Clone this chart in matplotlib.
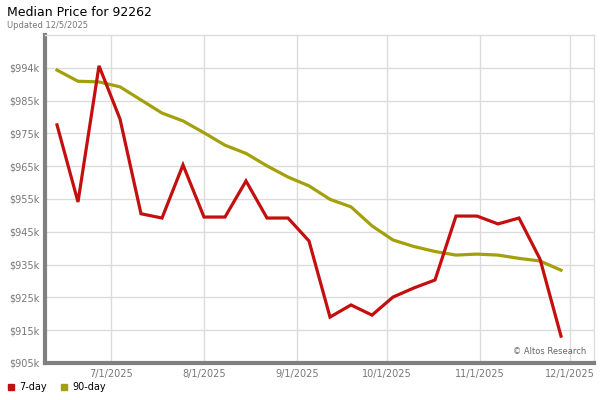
import matplotlib.pyplot as plt
import matplotlib.dates as mdates
import pandas as pd
from matplotlib.lines import Line2D

# Weekly median prices ($k)
dates = pd.date_range("2025-06-13", periods=25, freq="7D")
price_7day = [977.6, 954.1, 995.6, 979.4, 950.5, 949.2, 965.4, 949.5, 949.5, 960.5,
              949.2, 949.2, 942.2, 919.0, 922.7, 919.6, 925.1, 927.9, 930.3, 949.8,
              949.8, 947.4, 949.2, 936.7, 913.2]
price_90day = [994.3, 990.9, 990.7, 989.2, 985.2, 981.2, 978.8, 975.2, 971.4, 968.9,
               965.1, 961.7, 959.0, 954.9, 952.6, 946.8, 942.5, 940.5, 939.0, 937.9,
               938.2, 937.9, 936.9, 936.1, 933.3]

y_ticks = [905, 915, 925, 935, 945, 955, 965, 975, 985, 995]
y_labels = ["$905k", "$915k", "$925k", "$935k", "$945k", "$955k",
            "$965k", "$975k", "$985k", "$994k"]
x_ticks = pd.to_datetime(["2025-07-01", "2025-08-01", "2025-09-01",
                          "2025-10-01", "2025-11-01", "2025-12-01"])

red = "#c40f0f"
olive = "#a3a00b"
grid_c = "#dcdcdc"
text_c = "#777777"

fig = plt.figure(figsize=(6, 4), dpi=100)
ax = fig.add_axes([0.075, 0.0925, 0.915, 0.82])

ax.plot(dates, price_90day, color=olive, lw=2.3, solid_joinstyle="miter", zorder=3)
ax.plot(dates, price_7day, color=red, lw=2.3, solid_joinstyle="miter", zorder=4)

ax.set_ylim(905, 1005)
ax.set_xlim(pd.Timestamp("2025-06-09"), pd.Timestamp("2025-12-09"))
ax.set_yticks(y_ticks)
ax.set_yticklabels(y_labels)
ax.set_xticks(x_ticks)
ax.xaxis.set_major_formatter(mdates.DateFormatter("%-m/%-d/%Y"))
ax.tick_params(length=0, labelsize=7, labelcolor=text_c, pad=4)
ax.grid(True, color=grid_c, lw=1)
ax.set_axisbelow(True)

for side in ("top", "right"):
    ax.spines[side].set_color(grid_c)
    ax.spines[side].set_linewidth(1)
for side in ("left", "bottom"):
    ax.spines[side].set_color("#808080")
    ax.spines[side].set_linewidth(3)

ax.text(0.985, 0.02, "\u00a9 Altos Research", transform=ax.transAxes,
        ha="right", va="bottom", fontsize=6, color="#666666")

fig.text(0.012, 0.97, "Median Price for 92262", fontsize=9, va="center")
fig.text(0.012, 0.937, "Updated 12/5/2025", fontsize=6, color=text_c, va="center")

handles = [Line2D([], [], marker="s", ls="none", color=red, markersize=4.5),
           Line2D([], [], marker="s", ls="none", color=olive, markersize=4.5)]
fig.legend(handles, ["7-day", "90-day"], loc="lower left", bbox_to_anchor=(-0.005, -0.002),
           ncol=2, frameon=False, fontsize=7, handletextpad=0.4, columnspacing=1.2,
           handlelength=1.0)

fig.savefig("out.png", dpi=100)
